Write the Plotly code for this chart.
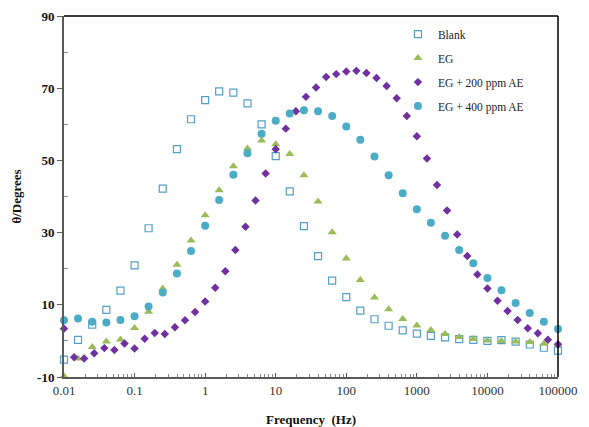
import plotly.graph_objects as go

# Frequencies (Hz)
freq5 = [0.01, 0.0158, 0.0251, 0.0398, 0.0631,
         0.1, 0.158, 0.251, 0.398, 0.631,
         1, 1.58, 2.51, 3.98, 6.31,
         10, 15.8, 25.1, 39.8, 63.1,
         100, 158, 251, 398, 631,
         1000, 1580, 2510, 3980, 6310,
         10000, 15800, 25100, 39800, 63100, 100000]
freq7 = [0.01, 0.0139, 0.0193, 0.0268, 0.0373, 0.0518, 0.072,
         0.1, 0.139, 0.193, 0.268, 0.373, 0.518, 0.72,
         1, 1.39, 1.93, 2.68, 3.73, 5.18, 7.2,
         10, 13.9, 19.3, 26.8, 37.3, 51.8, 72,
         100, 139, 193, 268, 373, 518, 720,
         1000, 1390, 1930, 2680, 3730, 5180, 7200,
         10000, 13900, 19300, 26800, 37300, 51800, 72000, 100000]

# Phase angle (degrees)
blank = [-5.2, 0.3, 4.5, 8.6, 13.9, 20.9, 31.2, 42.2, 53.1, 61.4,
         66.7, 69.1, 68.8, 65.8, 60.0, 51.2, 41.4, 31.8, 23.5, 16.7,
         12.1, 8.4, 6.0, 4.2, 2.9, 2.0, 1.4, 1.0, 0.5, 0.3,
         0.0, 0.2, -0.2, -1.0, -1.9, -2.7]
eg = [-9.8, -4.9, -1.7, -0.2, 0.4, 3.6, 8.1, 14.5, 21.1, 27.8,
      34.8, 41.7, 48.4, 53.3, 55.5, 54.5, 51.8, 45.9, 38.6, 30.1,
      22.8, 16.9, 12.0, 8.8, 6.1, 4.3, 3.0, 1.9, 1.1, 0.5,
      0.1, 0.0, -0.2, -0.3, -0.8, -1.0]
eg200 = [3.4, -4.5, -4.9, -3.4, -2.0, -2.5, -0.7, -2.1, 0.6, 2.2,
         1.9, 3.8, 5.7, 8.0, 10.9, 14.7, 19.3, 25.2, 31.6, 38.9,
         46.4, 53.1, 58.8, 63.6, 67.6, 70.2, 73.1, 73.9, 74.6, 74.8,
         74.2, 72.8, 70.6, 67.2, 62.3, 56.7, 50.5, 43.2, 36.1, 29.5,
         23.5, 18.4, 14.5, 11.1, 8.3, 5.8, 3.5, 2.1, 0.3, -0.9]
eg400 = [5.7, 6.2, 5.3, 5.1, 5.8, 6.8, 9.5, 13.4, 18.7, 24.9,
         31.9, 39.0, 46.0, 52.0, 57.4, 61.0, 63.0, 63.9, 63.6, 62.3,
         59.4, 55.7, 51.1, 45.9, 40.9, 36.5, 32.7, 29.1, 25.2, 21.5,
         17.4, 14.0, 10.5, 7.7, 5.3, 3.3]

series_names = ["Blank", "EG", "EG + 200 ppm AE", "EG + 400 ppm AE"]
x_tickvals = [0.01, 0.1, 1, 10, 100, 1000, 10000, 100000]
x_ticktext = ["0.01", "0.1", "1", "10", "100", "1000", "10000", "100000"]
y_tickvals = [-10, 10, 30, 50, 70, 90]

minor_x = [m * 10 ** e for e in range(-2, 5) for m in range(2, 10)]

SERIF = "Liberation Serif, Times New Roman, serif"

fig = go.Figure()
fig.add_trace(go.Scatter(x=freq5, y=blank, mode="markers", name=series_names[0],
                         legendgroup="a", cliponaxis=False,
                         marker=dict(symbol="square-open", size=7, color="#559fc6",
                                     line=dict(width=1.2, color="#559fc6"))))
fig.add_trace(go.Scatter(x=freq5, y=eg, mode="markers", name=series_names[1],
                         legendgroup="b", cliponaxis=False,
                         marker=dict(symbol="triangle-up", size=8, color="#9bbb59")))
fig.add_trace(go.Scatter(x=freq7, y=eg200, mode="markers", name=series_names[2],
                         legendgroup="c", cliponaxis=False,
                         marker=dict(symbol="diamond", size=6.5, color="#7030a0")))
fig.add_trace(go.Scatter(x=freq5, y=eg400, mode="markers", name=series_names[3],
                         legendgroup="d", cliponaxis=False,
                         marker=dict(symbol="circle", size=8, color="#4bacc6")))

# The page body adds an 8px margin, so the figure is sized to fit inside it.
fig.update_layout(
    width=581, height=419,
    margin=dict(l=56, r=31, t=8, b=50),
    paper_bgcolor="white", plot_bgcolor="white",
    font=dict(family=SERIF, size=12, color="#222"),
    showlegend=True,
    legend=dict(x=0.676, y=0.99, xanchor="left", yanchor="top",
                bgcolor="rgba(0,0,0,0)", tracegroupgap=5,
                font=dict(family=SERIF, size=11.5, color="#222"),
                itemwidth=30),
    xaxis=dict(type="log", range=[-2, 5], tickmode="array",
               tickvals=x_tickvals, ticktext=x_ticktext,
               ticks="inside", ticklen=4, tickcolor="#595959",
               tickfont=dict(family=SERIF, size=13, color="#333"),
               showgrid=False, zeroline=False, automargin=False,
               showline=True, linecolor="#595959", linewidth=2,
               minor=dict(tickmode="array", tickvals=minor_x, ticks="inside",
                          ticklen=3, tickcolor="#8a8a8a", showgrid=False),
               title=dict(text="<b>Frequency  (Hz)</b>", standoff=19,
                          font=dict(family=SERIF, size=13, color="#111"))),
    yaxis=dict(range=[-10, 90], tickmode="array", tickvals=y_tickvals,
               ticktext=["<b>%d</b>" % v for v in y_tickvals],
               ticks="outside", ticklen=5, tickcolor="#595959",
               tickfont=dict(family=SERIF, size=13, color="#111"),
               showgrid=False, zeroline=False, automargin=False,
               showline=True, linecolor="#595959", linewidth=2,
               minor=dict(tickmode="array", tickvals=[0, 20, 40, 60, 80],
                          ticks="inside", ticklen=4, tickcolor="#8a8a8a",
                          showgrid=False),
               title=dict(text="<b>θ/Degrees</b>", standoff=13,
                          font=dict(family=SERIF, size=13, color="#111"))),
    shapes=[
        dict(type="line", xref="paper", yref="paper", x0=0, x1=1, y0=1, y1=1,
             line=dict(color="black", width=1.5)),
        dict(type="line", xref="paper", yref="paper", x0=1, x1=1, y0=0, y1=1,
             line=dict(color="black", width=1.5)),
    ],
)

fig.write_html("out.html")
